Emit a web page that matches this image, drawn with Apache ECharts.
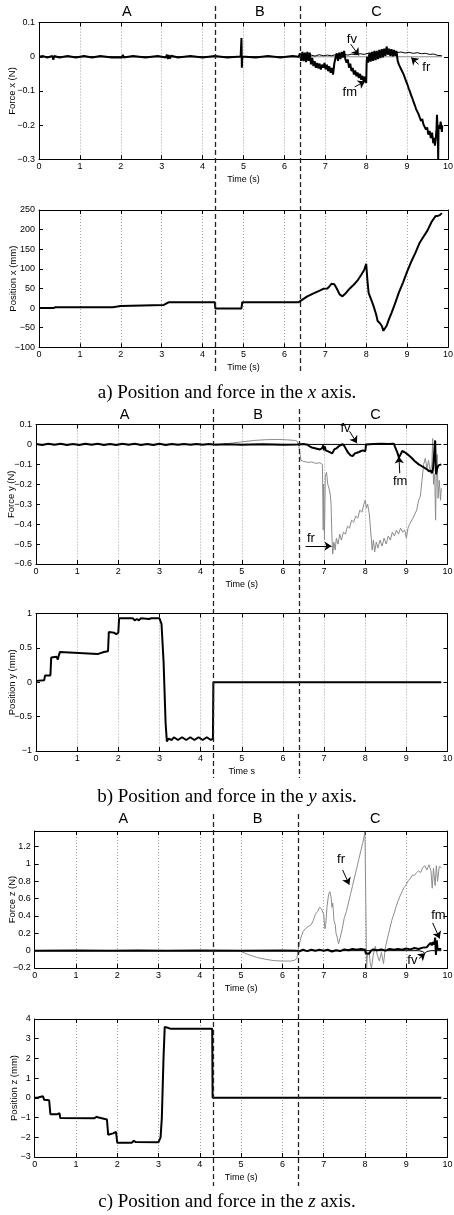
<!DOCTYPE html>
<html><head><meta charset="utf-8">
<script src="https://cdn.jsdelivr.net/npm/echarts@6/dist/echarts.min.js"></script>
<style>html,body{margin:0;padding:0;background:#fff}#c{width:454px;height:1215px}</style>
</head><body><div id="c"></div>
<script>
// ---------------- DATA (time s, value) ----------------
const phaseNames = ['A', 'B', 'C'];
const phaseLabelT = [2.15, 5.4, 8.25];
const phaseBounds = [4.31, 6.38];
const xTickLabels = [0, 1, 2, 3, 4, 5, 6, 7, 8, 9, 10];

// Panel a) force x
const fxM = [[0,0],[0.1,0.002],[0.2,-0.002],[0.33,0.002],[0.35,-0.009],[0.37,0.002],[0.5,-0.002],[0.7,0.002],[0.9,-0.002],[1.1,0.002],[1.3,-0.002],[1.5,0.002],[1.78,-0.002],[1.8,-0.006],[1.82,0.002],[2.03,-0.002],[2.05,0.006],[2.07,-0.002],[2.3,0.002],[2.6,-0.002],[2.9,0.002],[3.1,-0.002],[3.13,0.006],[3.15,-0.007],[3.17,0.005],[3.2,-0.005],[3.23,0.003],[3.4,-0.002],[3.7,0.002],[4.0,-0.002],[4.3,0.002],[4.6,-0.002],[4.93,0.001],[4.95,0.055],[4.96,-0.032],[4.97,0.001],[5.3,-0.002],[5.6,0.002],[5.9,-0.002],[6.2,0.002],[6.35,0],
 [6.38,0.01],[6.41,-0.012],[6.44,0.014],[6.47,-0.013],[6.5,0.012],[6.53,-0.016],[6.56,0.014],[6.59,-0.012],[6.62,0.012],[6.65,-0.022],[6.68,-0.003],[6.71,-0.027],[6.74,-0.013],[6.77,-0.032],[6.8,-0.018],[6.83,-0.034],[6.86,-0.02],[6.89,-0.037],[6.92,-0.023],[6.95,-0.032],[6.98,-0.018],[7.01,-0.037],[7.04,-0.023],[7.07,-0.042],[7.1,-0.028],[7.13,-0.047],[7.16,-0.033],[7.19,-0.052],[7.22,-0.02],[7.25,-0.003],[7.28,0.01],[7.31,-0.012],[7.34,0.012],[7.37,-0.007],[7.4,0.014],[7.43,-0.002],[7.46,0.017],[7.49,-0.007],
 [7.52,-0.017],[7.55,-0.008],[7.58,-0.032],[7.61,-0.02],[7.64,-0.042],[7.67,-0.033],[7.7,-0.052],[7.73,-0.04],[7.76,-0.057],[7.79,-0.046],[7.82,-0.062],[7.85,-0.05],[7.88,-0.067],[7.91,-0.056],[7.94,-0.074],[7.97,-0.058],[8.0,-0.077],[8.01,-0.02],[8.02,0],[8.05,-0.017],[8.08,0.012],[8.11,-0.014],[8.14,0.014],[8.17,-0.012],[8.2,0.017],[8.23,-0.01],[8.26,0.017],[8.29,-0.007],[8.32,0.02],[8.35,-0.004],[8.38,0.022],[8.41,-0.002],[8.44,0.024],[8.47,0.003],[8.5,0.03],[8.53,0.006],[8.56,0.024],[8.59,0.003],[8.62,0.022],[8.65,0.001],[8.68,0.02],[8.71,0.003],[8.74,0.017],
 [8.77,-0.012],[8.8,-0.023],[8.83,-0.022],[8.86,-0.038],[8.89,-0.037],[8.92,-0.053],[8.95,-0.057],[8.98,-0.073],[9.01,-0.082],[9.04,-0.093],[9.07,-0.102],[9.1,-0.113],[9.13,-0.122],[9.16,-0.133],[9.19,-0.142],[9.22,-0.153],[9.25,-0.157],[9.28,-0.168],[9.31,-0.167],[9.34,-0.188],[9.37,-0.182],[9.4,-0.198],[9.43,-0.197],[9.46,-0.213],[9.49,-0.207],[9.52,-0.228],[9.55,-0.217],[9.58,-0.238],[9.61,-0.222],[9.64,-0.253],[9.66,-0.237],[9.68,-0.26],[9.7,-0.24],[9.72,-0.21],[9.73,-0.17],[9.75,-0.22],[9.76,-0.3],[9.77,-0.2],[9.8,-0.21],[9.82,-0.19],[9.85,-0.22],[9.86,-0.2]];
const fxV = [[0,0],[6.35,0],[6.45,0.004],[6.55,0.001],[6.65,0.005],[6.75,0.002],[6.85,0.006],[6.95,0.003],[7.05,0.005],[7.15,0.003],[7.25,0.006],[7.35,0.004],[7.45,0.007],[7.55,0.005],[7.65,0.008],[7.75,0.006],[7.85,0.009],[7.95,0.007],[8.05,0.01],[8.15,0.008],[8.25,0.011],[8.35,0.01],[8.45,0.013],[8.55,0.011],[8.65,0.014],[8.75,0.012],[8.85,0.014],[8.95,0.011],[9.05,0.013],[9.15,0.01],[9.25,0.012],[9.35,0.009],[9.45,0.01],[9.55,0.007],[9.65,0.008],[9.75,0.004],[9.85,0.003]];
const fxR = [[0,0],[9.85,0]];
// Panel a) position x
const px = [[0,0],[0.35,0],[0.4,2],[1.8,2],[1.83,5],[2.0,5],[2.03,8],[3.05,8],[3.1,11],[3.18,15],[4.3,15],[4.31,-1],[4.95,-1],[4.97,15],[6.35,15],[6.45,22],[6.55,29],[6.7,37],[6.85,44],[6.95,49],[7.05,50],[7.1,55],[7.15,62],[7.22,61],[7.28,50],[7.35,35],[7.42,30],[7.5,38],[7.6,50],[7.7,60],[7.8,72],[7.88,85],[7.95,97],[8.0,113],[8.03,70],[8.06,38],[8.12,22],[8.18,5],[8.24,-15],[8.28,-33],[8.33,-38],[8.38,-45],[8.42,-58],[8.45,-62],[8.5,-45],[8.55,-30],[8.62,-12],[8.7,10],[8.8,40],[8.9,65],[9.0,93],[9.1,118],[9.2,140],[9.3,165],[9.4,182],[9.5,198],[9.6,220],[9.7,235],[9.75,235],[9.8,237],[9.85,242]];

// Panel b) force y
const fyM = [[0,0.002],[0.15,-0.003],[0.3,0.003],[0.45,-0.002],[0.6,0.003],[0.75,-0.003],[0.9,0.002],[1.05,-0.003],[1.2,0.003],[1.35,-0.002],[1.5,0.003],[1.65,-0.003],[1.8,0.002],[1.95,-0.003],[2.1,0.003],[2.25,-0.002],[2.4,0.003],[2.55,-0.003],[2.7,0.002],[2.85,-0.003],[3.0,0.003],[3.15,-0.003],[3.3,0.002],[3.45,-0.002],[3.6,0.002],[3.75,-0.002],[3.9,0.002],[4.05,-0.002],[4.2,0.002],[4.35,-0.001],[4.6,0.001],[5.0,-0.001],[5.5,0.001],[6.0,-0.001],[6.35,0],
 [6.5,0.002],[6.6,-0.002],[6.65,-0.01],[6.7,-0.015],[6.8,-0.02],[6.9,-0.025],[6.95,-0.02],[6.97,-0.03],[6.98,-0.005],[7.0,-0.03],[7.02,-0.01],[7.04,-0.03],[7.1,-0.035],[7.15,-0.04],[7.2,-0.045],[7.25,-0.025],[7.3,-0.02],[7.35,-0.01],[7.4,-0.005],[7.45,0.002],[7.5,-0.01],[7.55,-0.03],[7.6,-0.045],[7.65,-0.056],[7.7,-0.058],[7.75,-0.045],[7.8,-0.042],[7.85,-0.038],[7.9,-0.033],[7.95,-0.03],[8.0,-0.035],[8.01,-0.02],[8.02,0],[8.05,0.003],[8.2,0.002],[8.4,0.004],[8.55,0.002],[8.7,0.003],[8.72,-0.01],[8.78,-0.04],[8.82,-0.066],[8.86,-0.05],[8.9,-0.033],[8.95,-0.038],[9.0,-0.045],[9.1,-0.062],[9.2,-0.083],[9.3,-0.1],[9.4,-0.112],[9.5,-0.125],[9.55,-0.135],[9.6,-0.132],[9.62,-0.145],[9.65,-0.12],[9.68,-0.13],[9.7,0.02],[9.72,-0.15],[9.75,-0.12],[9.78,-0.105],[9.8,-0.11],[9.85,-0.1]];
const fyV = [[0,0],[9.85,0]];
const fyR = [[0,0],[4.5,0],[4.8,0.008],[5.0,0.013],[5.3,0.02],[5.6,0.024],[5.9,0.025],[6.1,0.023],[6.3,0.02],[6.35,0.015],
 [6.38,0],[6.41,-0.04],[6.44,-0.08],[6.5,-0.085],[6.6,-0.09],[6.7,-0.088],[6.8,-0.095],[6.9,-0.092],[6.96,-0.1],[6.98,-0.43],[6.99,-0.2],[7.01,-0.48],[7.03,-0.16],[7.06,-0.14],[7.09,-0.2],[7.12,-0.22],[7.15,-0.25],[7.17,-0.3],[7.19,-0.45],[7.21,-0.55],[7.24,-0.49],[7.27,-0.53],[7.3,-0.47],[7.34,-0.5],[7.38,-0.45],[7.42,-0.48],[7.47,-0.44],[7.52,-0.45],[7.57,-0.41],[7.62,-0.42],[7.67,-0.38],[7.72,-0.39],[7.77,-0.36],[7.82,-0.37],[7.87,-0.33],[7.92,-0.34],[7.97,-0.3],[8.0,-0.28],[8.03,-0.32],[8.06,-0.3],[8.1,-0.35],[8.14,-0.34],[8.17,-0.53],[8.2,-0.48],[8.23,-0.54],[8.27,-0.49],[8.31,-0.52],[8.36,-0.48],[8.41,-0.51],[8.46,-0.47],[8.51,-0.5],[8.56,-0.46],[8.61,-0.48],[8.66,-0.44],[8.71,-0.46],[8.76,-0.43],[8.81,-0.45],[8.86,-0.42],[8.91,-0.44],[8.96,-0.43],[9.0,-0.47],[9.04,-0.42],[9.08,-0.4],[9.12,-0.41],[9.16,-0.37],[9.2,-0.38],[9.25,-0.33],[9.3,-0.28],[9.34,-0.26],[9.38,-0.18],[9.42,-0.1],[9.46,-0.07],[9.5,-0.12],[9.54,-0.08],[9.58,-0.14],[9.62,-0.1],[9.64,0.03],[9.66,-0.2],[9.69,-0.15],[9.71,-0.38],[9.73,-0.12],[9.75,-0.05],[9.77,-0.27],[9.8,-0.18],[9.83,-0.28],[9.85,-0.22]];
// Panel b) position y
const py = [[0,0.02],[0.2,0.03],[0.22,0.1],[0.35,0.1],[0.37,0.36],[0.5,0.37],[0.53,0.33],[0.55,0.38],[0.58,0.44],[0.6,0.42],[1.5,0.41],[1.52,0.39],[1.55,0.42],[1.65,0.44],[1.75,0.45],[1.77,0.73],[1.9,0.72],[1.95,0.7],[2.0,0.72],[2.02,0.93],[2.35,0.93],[2.4,0.9],[2.45,0.92],[2.5,0.9],[2.55,0.93],[2.75,0.92],[2.8,0.93],[3.0,0.93],[3.05,0.85],[3.1,0.3],[3.15,-0.6],[3.18,-0.86],[3.22,-0.82],[3.3,-0.84],[3.35,-0.8],[3.45,-0.84],[3.55,-0.8],[3.65,-0.84],[3.75,-0.8],[3.85,-0.84],[3.95,-0.8],[4.05,-0.84],[4.15,-0.8],[4.25,-0.84],[4.3,-0.82],[4.31,0],[9.85,0]];

// Panel c) force z
const fzM = [[0,0],[1.0,0.002],[1.8,-0.002],[2.5,0.002],[3.2,-0.002],[4.0,0.002],[5.0,-0.002],[6.0,0.002],[6.35,0],[6.4,-0.01],[6.5,0.01],[6.6,-0.005],[6.7,0.01],[6.8,0],[6.9,0.012],[7.0,0],[7.1,0.01],[7.2,-0.01],[7.3,0.005],[7.4,-0.005],[7.5,0.015],[7.6,0.005],[7.7,0.02],[7.8,0.01],[7.9,0.02],[8.0,0.01],[8.02,-0.03],[8.05,-0.02],[8.1,-0.035],[8.15,0],[8.2,0.015],[8.3,0.005],[8.4,0.015],[8.5,0],[8.6,0.02],[8.7,0.01],[8.8,0.02],[8.9,0.01],[9.0,0.025],[9.1,0.015],[9.2,0.03],[9.3,0.02],[9.4,0.035],[9.5,0.04],[9.55,0.07],[9.6,0.09],[9.62,0.06],[9.65,0.1],[9.68,0.07],[9.7,0.15],[9.72,-0.05],[9.74,0.12],[9.76,0.02],[9.8,0.04],[9.85,0.02]];
const fzV = [[0,0],[9.3,0],[9.4,-0.01],[9.45,-0.03],[9.5,-0.01],[9.6,0],[9.85,0]];
const fzR = [[0,0],[4.95,0],[5.0,-0.01],[5.2,-0.05],[5.4,-0.08],[5.6,-0.1],[5.8,-0.115],[6.0,-0.12],[6.2,-0.12],[6.3,-0.11],[6.35,-0.09],[6.4,0.05],[6.45,0.15],[6.5,0.22],[6.55,0.25],[6.6,0.27],[6.7,0.3],[6.75,0.35],[6.8,0.42],[6.85,0.45],[6.9,0.5],[6.95,0.48],[7.0,0.42],[7.03,0.25],[7.05,0.3],[7.08,0.5],[7.12,0.65],[7.15,0.68],[7.18,0.62],[7.2,0.5],[7.22,0.55],[7.25,0.35],[7.28,0.3],[7.3,0.2],[7.33,0.15],[7.36,0.08],[7.4,0.15],[7.45,0.25],[7.5,0.38],[7.55,0.45],[7.6,0.55],[7.65,0.65],[7.7,0.75],[7.75,0.85],[7.8,0.95],[7.85,1.05],[7.9,1.15],[7.95,1.25],[8.0,1.37],[8.02,0.6],[8.04,-0.2],[8.06,-0.05],[8.1,-0.02],[8.13,-0.15],[8.16,-0.2],[8.2,-0.05],[8.25,0.05],[8.3,-0.05],[8.35,-0.12],[8.4,-0.02],[8.45,-0.15],[8.5,0.05],[8.55,0.15],[8.6,0.25],[8.65,0.35],[8.7,0.42],[8.75,0.5],[8.8,0.57],[8.85,0.63],[8.9,0.68],[8.95,0.73],[9.0,0.76],[9.05,0.81],[9.1,0.83],[9.15,0.87],[9.2,0.87],[9.25,0.9],[9.3,0.92],[9.35,0.9],[9.4,0.96],[9.45,0.98],[9.5,0.93],[9.55,0.99],[9.6,0.92],[9.63,0.72],[9.66,0.95],[9.7,0.75],[9.73,0.98],[9.76,0.8],[9.8,0.97],[9.85,0.96]];
// Panel c) position z
const pz = [[0,0],[0.08,0.02],[0.12,0.08],[0.2,0.08],[0.23,-0.1],[0.35,-0.12],[0.38,-0.83],[0.55,-0.83],[0.57,-0.75],[0.6,-0.78],[0.62,-1.02],[1.45,-1.03],[1.5,-0.96],[1.55,-1.0],[1.75,-1.1],[1.78,-1.87],[1.9,-1.8],[1.97,-1.72],[2.0,-2.28],[2.35,-2.28],[2.4,-2.18],[2.45,-2.24],[3.0,-2.25],[3.05,-2.0],[3.08,-1.0],[3.12,2.0],[3.15,3.6],[3.2,3.57],[3.3,3.5],[4.3,3.5],[4.31,0],[9.85,0]];

// Y axis ranges [min, max, interval]
const yRanges = [[-0.3,0.1,0.1],[-100,250,50],[-0.6,0.1,0.1],[-1,1,0.5],[-0.2,1.38,0.2],[-3,4,1]];
const yNames = ['Force x (N)','Position x (mm)','Force y (N)','Position y (mm)','Force z (N)','Position z (mm)'];
const xNames = ['Time (s)','Time (s)','Time (s)','Time s','Time (s)','Time (s)'];
const captions = [['a) Position and force in the ','x',' axis.'],['b) Position and force in the ','y',' axis.'],['c) Position and force in the ','z',' axis.']];

// annotations: [text, t, v] and arrows [t1, v1, t2, v2]
const noteTexts = {0:[['fv',7.65,0.05],['fm',7.6,-0.105],['fr',9.47,-0.03]], 2:[['fv',7.52,0.082],['fm',8.85,-0.185],['fr',6.68,-0.47]], 4:[['fr',7.42,1.05],['fm',9.78,0.41],['fv',9.15,-0.11]]};
const noteArrows = {0:[[7.62,0.037,7.82,0.004],[7.72,-0.088,7.97,-0.072],[9.28,-0.022,9.1,-0.002]], 2:[[7.62,0.066,7.8,0.006],[8.84,-0.145,8.82,-0.06],[6.55,-0.51,7.18,-0.51]], 4:[[7.46,0.93,7.62,0.76],[9.64,0.32,9.81,0.14],[9.31,-0.09,9.46,-0.03]]};

// ---------------- LAYOUT ----------------
const L = [
  {l:39, r:448, t:22.6, b:159.3, yGap:22},
  {l:39, r:448, t:210, b:347.3, yGap:21},
  {l:36, r:447.5, t:424.5, b:564, yGap:19.5},
  {l:36, r:447.5, t:613.5, b:751, yGap:18.5},
  {l:34.7, r:447.5, t:831, b:968, yGap:17},
  {l:34.7, r:447.5, t:1019, b:1157, yGap:15}
];
const sections = [{labelY:12, top:6, bottom:373, cap:393, panel:0}, {labelY:415, top:409, bottom:778, cap:797, panel:2}, {labelY:819, top:814, bottom:1186, cap:1202, panel:4}];

const FONT = '"Liberation Sans", Arial, Helvetica, sans-serif';
const SERIF = '"Liberation Serif", "Times New Roman", serif';
const minusFmt = v => String(v).replace('-', '\u2212');
const lineAx = {show:true, onZero:false, lineStyle:{color:'#000', width:1}};
const tickIn = {inside:true, length:4, lineStyle:{color:'#000'}};

const grids = [], xAxes = [], yAxes = [], series = [];
L.forEach((g, i) => {
  grids.push({left:g.l, top:g.t, width:g.r-g.l, height:g.b-g.t, containLabel:false, outerBoundsMode:'none'});
  xAxes.push({type:'value', gridIndex:i, position:'bottom', min:0, max:10, interval:1,
    axisLine:lineAx, axisTick:tickIn,
    axisLabel:{color:'#000', fontSize:9, fontFamily:FONT, margin:3, formatter:v => String(v)},
    splitLine:{show:true, lineStyle:{type:[1,2], color:'#8a8a8a', width:0.8}},
    name:xNames[i], nameLocation:'middle', nameGap:16, nameMoveOverlap:false,
    nameTextStyle:{color:'#000', fontSize:9, fontFamily:FONT}});
  xAxes.push({type:'value', gridIndex:i, position:'top', min:0, max:10, interval:1,
    axisLine:lineAx, axisTick:tickIn, axisLabel:{show:false}, splitLine:{show:false}});
  const yr = yRanges[i];
  yAxes.push({type:'value', gridIndex:i, position:'left', min:yr[0], max:yr[1], interval:yr[2],
    axisLine:lineAx, axisTick:tickIn,
    axisLabel:{color:'#000', fontSize:9, fontFamily:FONT, margin:4, formatter:minusFmt, showMaxLabel: i === 4 ? false : true},
    splitLine:{show:false},
    name:yNames[i], nameLocation:'middle', nameGap:g.yGap, nameRotate:90, nameMoveOverlap:false,
    nameTextStyle:{color:'#000', fontSize:9.5, fontFamily:FONT}});
  yAxes.push({type:'value', gridIndex:i, position:'right', min:yr[0], max:yr[1], interval:yr[2],
    axisLine:lineAx, axisTick:tickIn, axisLabel:{show:false}, splitLine:{show:false}});
});

function addLine(i, data, color, width, z, extra) {
  series.push(Object.assign({type:'line', xAxisIndex:2*i, yAxisIndex:2*i, data:data, showSymbol:false, symbol:'none',
    lineStyle:{color:color, width:width}, z:z, animation:false, silent:true, clip:true}, extra || {}));
}
function notes(i) {
  if (!noteTexts[i]) return {};
  return {
    markPoint:{silent:true, symbol:'rect', symbolSize:1, itemStyle:{color:'rgba(0,0,0,0)'}, animation:false,
      label:{show:true, position:'inside', color:'#000', fontSize:13, fontFamily:FONT, formatter:p => p.name},
      data:noteTexts[i].map(n => ({name:n[0], coord:[n[1], n[2]]}))},
    markLine:{silent:true, symbol:['none','arrow'], symbolSize:7, animation:false, label:{show:false},
      itemStyle:{color:'#000'},
      lineStyle:{color:'#000', width:1, type:'solid'},
      data:noteArrows[i].map(a => [{coord:[a[0], a[1]]}, {coord:[a[2], a[3]]}])}
  };
}
const GRAY = '#8c8c8c';
addLine(0, fxR, GRAY, 1, 2);
addLine(0, fxM, '#000', 2, 3);
addLine(0, fxV, '#000', 1, 4, notes(0));
addLine(1, px, '#000', 2, 3);
addLine(2, fyR, GRAY, 1, 2);
addLine(2, fyM, '#000', 2, 3);
addLine(2, fyV, '#000', 1, 4, notes(2));
addLine(3, py, '#000', 2, 3);
addLine(4, fzR, GRAY, 1, 2);
addLine(4, fzM, '#000', 2, 3);
addLine(4, fzV, '#000', 1, 4, notes(4));
addLine(5, pz, '#000', 2, 3);

const chart = echarts.init(document.getElementById('c'), null, {renderer:'canvas'});
chart.setOption({animation:false, backgroundColor:'#fff', grid:grids, xAxis:xAxes, yAxis:yAxes, series:series});

// dashed phase boundaries, phase letters, captions
const graphics = [];
sections.forEach((s, k) => {
  const ax = {xAxisIndex: 2*s.panel};
  phaseBounds.forEach(t => {
    const x = Math.round(chart.convertToPixel(ax, t)) + 0.5;
    graphics.push({type:'line', silent:true, z:100, shape:{x1:x, y1:s.top, x2:x, y2:s.bottom},
      style:{stroke:'#222', lineWidth:1.3, lineDash:[5,3]}});
  });
  phaseNames.forEach((nm, j) => {
    graphics.push({type:'text', silent:true, z:100, x:chart.convertToPixel(ax, phaseLabelT[j]), y:s.labelY,
      style:{text:nm, fill:'#000', font:'14.5px ' + FONT, align:'center', verticalAlign:'middle'}});
  });
  const c = captions[k];
  graphics.push({type:'text', silent:true, z:100, x:227, y:s.cap,
    style:{text:'{n|' + c[0] + '}{i|' + c[1] + '}{n|' + c[2] + '}', align:'center', verticalAlign:'middle', fill:'#000',
      rich:{n:{font:'19px ' + SERIF, fill:'#000'}, i:{font:'italic 19px ' + SERIF, fill:'#000'}}}});
});
chart.setOption({graphic:graphics});
</script></body></html>
